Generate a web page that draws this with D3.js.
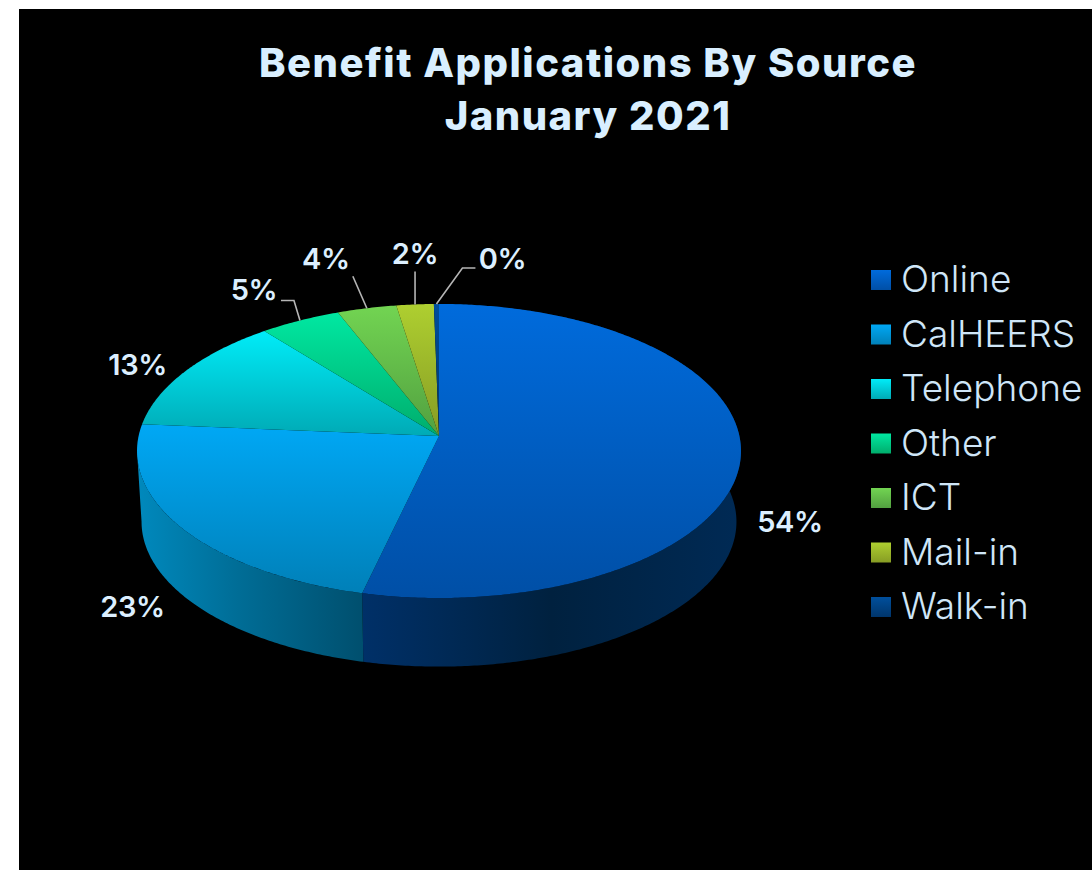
<!DOCTYPE html>
<html>
<head>
<meta charset="utf-8">
<style>
  html, body { margin: 0; padding: 0; background: #fff; overflow: hidden; }
  svg { display: block; }
  text { font-family: Inter, "Open Sans", sans-serif; }
</style>
<script src="https://cdn.jsdelivr.net/npm/d3@7"></script>
</head>
<body>
<div id="chart"></div>
<script>
// chart data
var titleLines = ["Benefit Applications By Source", "January 2021"];
var categories = ["Online", "CalHEERS", "Telephone", "Other", "ICT", "Mail-in", "Walk-in"];
var values = [53.7, 22.6, 12.9, 4.8, 3.5, 2.2, 0.3];

// top and bottom colour of each slice, then the side wall colours
var topColors = ["#006bdc", "#00a8f5", "#00ecf8", "#00e8a2", "#72d452", "#aecf30", "#004f9c"];
var bottomColors = ["#004fa6", "#0080b8", "#00aab5", "#00ad6c", "#52a040", "#879c24", "#00356b"];
var wallStops = [
    ["#003068", "#00213f", "#002a55"],
    ["#0089bd", "#006d96", "#004f6e"]
];

// where each label sits relative to its slice's rim point, and its leader
var labelOffsets = [[49, 68], [-48, 80], [-48, -6], [-46, -31], [-41, -50], [0, -51], [66, -45]];
var hasLeader = [false, false, false, true, true, true, true];

var width = 1092, height = 870;

var svg = d3.select("#chart").append("svg")
    .attr("width", width)
    .attr("height", height);

svg.append("rect")
    .attr("x", 19).attr("y", 9)
    .attr("width", width - 19).attr("height", height - 9)
    .attr("fill", "#000");

var defs = svg.append("defs");

categories.forEach(function(c, i) {
    var g = defs.append("linearGradient")
        .attr("id", "top" + i)
        .attr("x1", 0).attr("y1", 0).attr("x2", 0).attr("y2", 1);
    g.append("stop").attr("offset", 0).attr("stop-color", topColors[i]);
    g.append("stop").attr("offset", 1).attr("stop-color", bottomColors[i]);
});

wallStops.forEach(function(stops, i) {
    var g = defs.append("linearGradient")
        .attr("id", "wall" + i)
        .attr("x1", 0).attr("y1", 0).attr("x2", 1).attr("y2", 0);
    var pos = i == 0 ? [0, 0.5, 1] : [0, 0.45, 1];
    stops.forEach(function(s, j) {
        g.append("stop").attr("offset", pos[j]).attr("stop-color", s);
    });
});

// the pie is a flat circle seen in perspective, near edge bigger than far edge
var cx = 439, cy = 436, radiusX = 300.4, radiusY = 145.5, persp = 0.102;
var depth = 71, bottomScale = 0.985;
// angle of the left edge of the drum, walls stop there
var leftEdge = Math.PI + Math.acos(persp);

function project(angle, scale, offset) {
    var u = Math.sin(angle), v = -Math.cos(angle);
    var w = 1 - persp * v;
    return [cx + scale * radiusX * u / w, cy + offset + scale * radiusY * v / w];
}

function arcPoints(a0, a1, scale, offset) {
    var steps = Math.max(2, Math.ceil((a1 - a0) / 0.01));
    return d3.range(steps + 1).map(function(k) {
        return project(a0 + (a1 - a0) * k / steps, scale, offset);
    });
}

var line = d3.line();
var pie = d3.pie().sort(null).value(function(d) { return d; });
var arcs = pie(values);

// side walls first, only the two front ones can be seen
svg.selectAll(".wall")
    .data(arcs.slice(0, 2))
    .enter().append("path")
    .attr("class", "wall")
    .attr("d", function(d) {
        var end = Math.min(d.endAngle, leftEdge);
        var top = arcPoints(d.startAngle, end, 1, 0);
        var bottom = arcPoints(d.startAngle, end, bottomScale, depth).reverse();
        return line(top.concat(bottom)) + "Z";
    })
    .attr("fill", function(d, i) { return "url(#wall" + i + ")"; });

svg.selectAll(".slice")
    .data(arcs)
    .enter().append("path")
    .attr("class", "slice")
    .attr("d", function(d) {
        return line([[cx, cy]].concat(arcPoints(d.startAngle, d.endAngle, 1, 0))) + "Z";
    })
    .attr("fill", function(d, i) { return "url(#top" + i + ")"; });

// percent labels
function labelPos(d, i) {
    var p = project((d.startAngle + d.endAngle) / 2, 1, 0);
    return [p[0] + labelOffsets[i][0], p[1] + labelOffsets[i][1]];
}

var percent = d3.format(".0f");

svg.selectAll(".leader")
    .data(arcs)
    .enter().filter(function(d, i) { return hasLeader[i]; })
    .append("path")
    .attr("class", "leader")
    .attr("d", function(d) {
        var i = arcs.indexOf(d);
        var p = project((d.startAngle + d.endAngle) / 2, 1, 0);
        var l = labelPos(d, i);
        if (i == 3) return line([p, [p[0] - 6, p[1] - 20], [p[0] - 19, p[1] - 20]]);
        if (i == 6) return line([p, [l[0] - 40, l[1] + 9], [l[0] - 27, l[1] + 9]]);
        return line([p, [l[0] + (i == 4 ? 27 : 0), l[1] + 18]]);
    })
    .attr("fill", "none")
    .attr("stroke", "#b5b5b5")
    .attr("stroke-width", 1.6);

svg.selectAll(".label")
    .data(arcs)
    .enter().append("text")
    .attr("class", "label")
    .attr("x", function(d, i) { return labelPos(d, i)[0]; })
    .attr("y", function(d, i) { return labelPos(d, i)[1]; })
    .attr("dy", "0.36em")
    .attr("text-anchor", "middle")
    .attr("font-size", 29)
    .attr("font-weight", 600)
    .attr("letter-spacing", -0.4)
    .attr("fill", "#dcefff")
    .text(function(d) { return percent(d.value) + "%"; });

// title
svg.selectAll(".title")
    .data(titleLines)
    .enter().append("text")
    .attr("class", "title")
    .attr("x", 588)
    .attr("y", function(d, i) { return 77 + i * 53; })
    .attr("text-anchor", "middle")
    .attr("font-size", 40)
    .attr("font-weight", 800)
    .attr("letter-spacing", 1.5)
    .attr("fill", "#d9efff")
    .text(function(d) { return d; });

// legend
var legendY = d3.scalePoint().domain(categories).range([280, 607]);

var legend = svg.selectAll(".legend")
    .data(categories)
    .enter().append("g")
    .attr("class", "legend")
    .attr("transform", function(d) { return "translate(871," + legendY(d) + ")"; });

legend.append("rect")
    .attr("y", -10)
    .attr("width", 20)
    .attr("height", 20)
    .attr("fill", function(d, i) { return "url(#top" + i + ")"; });

legend.append("text")
    .attr("x", 30)
    .attr("y", -1)
    .attr("dy", "0.36em")
    .attr("font-size", 37)
    .attr("font-weight", 300)
    .attr("fill", "#cfe6f8")
    .text(function(d) { return d; });
</script>
</body>
</html>
